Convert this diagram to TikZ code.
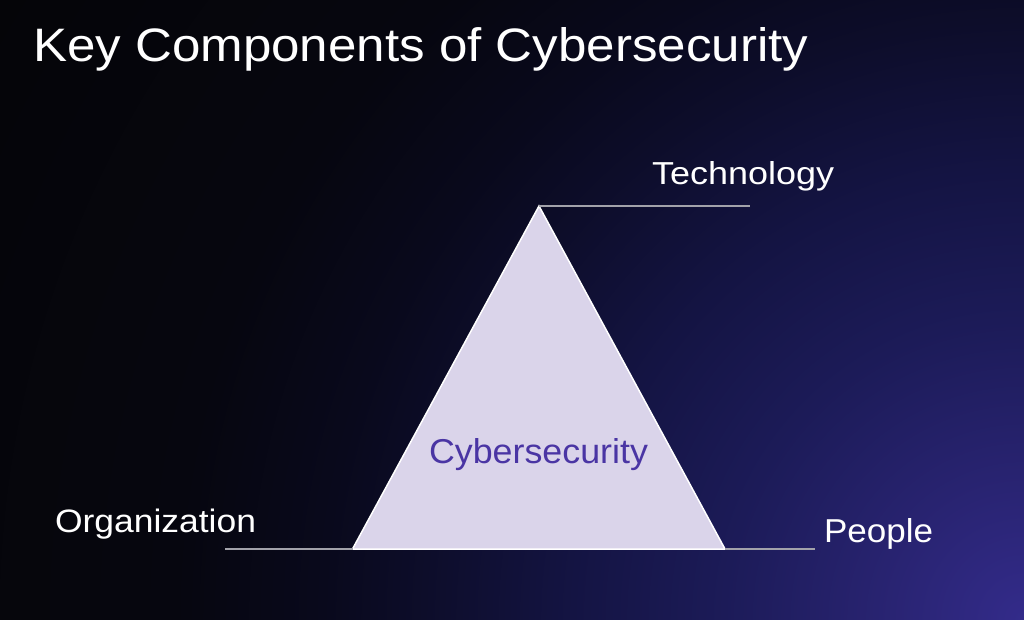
\documentclass[tikz,border=0pt]{standalone}
\usepackage{fontspec}
\setmainfont{Liberation Sans}
\usepackage{graphicx}
\definecolor{bgA}{HTML}{332B8A}
\definecolor{bgB}{HTML}{282370}
\definecolor{bgC}{HTML}{1C1B58}
\definecolor{bgD}{HTML}{141443}
\definecolor{bgE}{HTML}{0D0D2A}
\definecolor{bgF}{HTML}{09091C}
\definecolor{bgG}{HTML}{06060F}
\definecolor{bgH}{HTML}{050508}
\definecolor{trifill}{HTML}{DAD4EA}
\definecolor{leader}{HTML}{A2A2AA}
\definecolor{corepurple}{HTML}{4A35A4}
\pgfdeclareradialshading{bgglow}{\pgfpoint{0bp}{0bp}}{%
  color(0bp)=(bgA); color(3.1bp)=(bgB); color(6.25bp)=(bgC);
  color(9.4bp)=(bgD); color(12.5bp)=(bgE); color(14.6bp)=(bgF);
  color(17.7bp)=(bgG); color(25bp)=(bgH); color(50bp)=(bgH)}
\begin{document}
\begin{tikzpicture}[x=1pt,y=-1pt,
  lbl/.style={anchor=base west,inner sep=0pt,outer sep=0pt,text=white},
  leaderline/.style={draw=leader,line width=2pt},
  pyramid/.style={fill=trifill,draw=white,line width=1.5pt,line join=miter}]
\useasboundingbox (0,0) rectangle (1024,620);
\begin{scope}
\clip (0,0) rectangle (1024,620);
\fill[bgH] (0,0) rectangle (1024,620);
\shade[shading=bgglow] (1024,620) circle (1200);
\end{scope}
% title
\node[lbl] (title) at (33,62) {\resizebox{775pt}{34pt}{Key Components of Cybersecurity}};
% triangle
\coordinate (apex) at (539,206);
\coordinate (bl) at (352.5,549);
\coordinate (br) at (725,549);
\draw[pyramid] (apex) -- (bl) -- (br) -- cycle;
% leader ends
\coordinate (techend) at (750,206);
\coordinate (orgend) at (225,549);
\coordinate (peopleend) at (815,549);
\draw[leaderline] (apex) -- (techend);
\draw[leaderline] (orgend) -- (bl);
\draw[leaderline] (br) -- (peopleend);
% labels
\node[lbl] (tech) at (652,185) {\resizebox{182pt}{23pt}{Technology}};
\node[lbl] (org) at (55,532) {\resizebox{201pt}{23.5pt}{Organization}};
\node[lbl] (people) at (824,542) {\resizebox{109pt}{24pt}{People}};
\node[lbl,text=corepurple] (core) at (429,463) {\resizebox{219pt}{25pt}{Cybersecurity}};
\end{tikzpicture}
\end{document}
